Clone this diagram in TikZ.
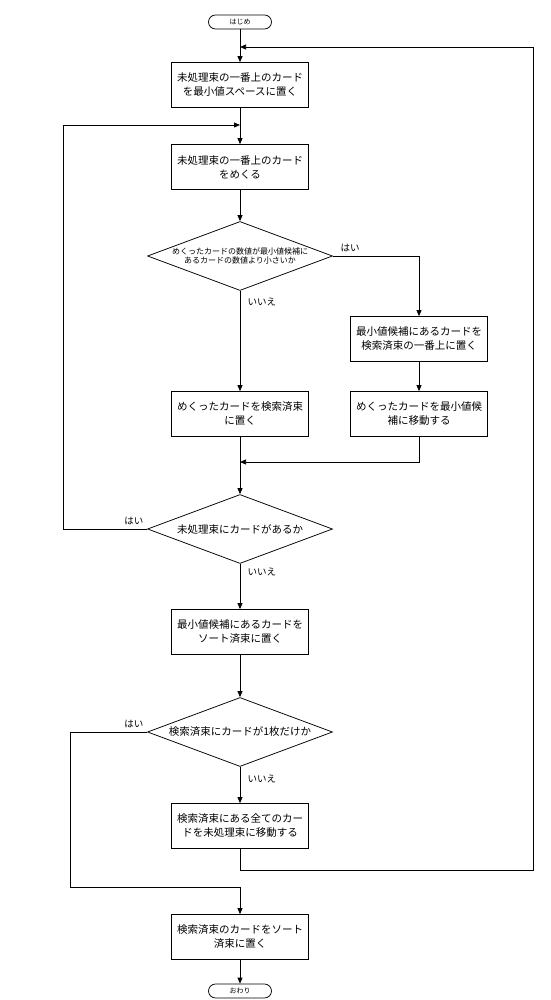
\documentclass[tikz,border=0pt]{standalone}
\usepackage{fontspec}
\setmainfont{Noto Sans CJK JP}
\usetikzlibrary{arrows.meta,shapes.geometric,positioning}

\begin{document}
\begin{tikzpicture}[x=1pt, y=-1pt, line width=0.75pt,
    >={Triangle[length=6pt,width=5pt]},
    proc/.style={draw, minimum width=137pt, minimum height=45pt, align=center, inner sep=1pt, font=\fontsize{10.5}{14}\selectfont},
    judge/.style={draw, diamond, aspect=2.67, minimum width=185pt, minimum height=69pt, inner sep=0pt, align=center, font=\fontsize{10.5}{13}\selectfont},
    term/.style={draw, rounded corners=7pt, minimum width=63pt, minimum height=14pt, inner sep=0pt, font=\fontsize{7}{8}\selectfont},
    ans/.style={font=\fontsize{9.5}{11}\selectfont}]
        \useasboundingbox (0,0) rectangle (550,1000);
        % terminals and steps
        \node[term] (start) at (240,22) {はじめ};
        \node[proc] (put) at (240,85) {未処理束の一番上のカード\\を最小値スペースに置く};
        \node[proc] (turn) at (240,167) {未処理束の一番上のカード\\をめくる};
        \node[judge, font=\fontsize{8}{9}\selectfont] (cmp) at (240,256) {めくったカードの数値が最小値候補に\\あるカードの数値より小さいか};
        \node[proc] (swapA) at (419,339) {最小値候補にあるカードを\\検索済束の一番上に置く};
        \node[proc] (swapB) at (419,414) {めくったカードを最小値候\\補に移動する};
        \node[proc] (discard) at (240,414) {めくったカードを検索済束\\に置く};
        \node[judge] (left) at (240,529) {未処理束にカードがあるか};
        \node[proc] (sorted) at (240,632) {最小値候補にあるカードを\\ソート済束に置く};
        \node[judge] (one) at (240,732) {検索済束にカードが1枚だけか};
        \node[proc] (back) at (240,826) {検索済束にある全てのカー\\ドを未処理束に移動する};
        \node[proc] (last) at (240,937) {検索済束のカードをソート\\済束に置く};
        \node[term] (stop) at (240,991) {おわり};
        % joins and bends
        \coordinate (jtop) at (240,47);
        \coordinate (jloop) at (240,125);
        \coordinate (merge) at (240,462);
        \coordinate (loopL) at (63,125);
        \coordinate (loopD) at (70,887);
        \coordinate (loopR) at (533,870);
        % main flow
        \path[draw, ->] (start) -- (put);
        \path[draw, ->] (put) -- (turn);
        \path[draw, ->] (turn) -- (cmp);
        \path[draw, ->] (cmp.east) -- node[pos=0.2, above, ans]{はい} (cmp.east -| swapA) -- (swapA);
        \path[draw, ->] (swapA) -- (swapB);
        \path[draw, ->] (cmp) -- node[pos=0.11, right, ans, xshift=4pt]{いいえ} (discard);
        \path[draw, ->] (swapB) |- (merge);
        \path[draw, ->] (discard) -- (left);
        % inner loop
        \path[draw, ->] (left.west) node[above left, ans]{はい} -| (loopL) -- (jloop);
        \path[draw, ->] (left) -- node[pos=0.17, right, ans, xshift=4pt]{いいえ} (sorted);
        \path[draw, ->] (sorted) -- (one);
        \path[draw, ->] (one.west) node[above left, ans]{はい} -| (loopD) -| (last);
        \path[draw, ->] (one) -- node[pos=0.34, right, ans, xshift=4pt]{いいえ} (back);
        % outer loop
        \path[draw, ->] (back) |- (loopR) |- (jtop);
        \path[draw, ->] (last) -- (stop);
    \end{tikzpicture}
\end{document}
